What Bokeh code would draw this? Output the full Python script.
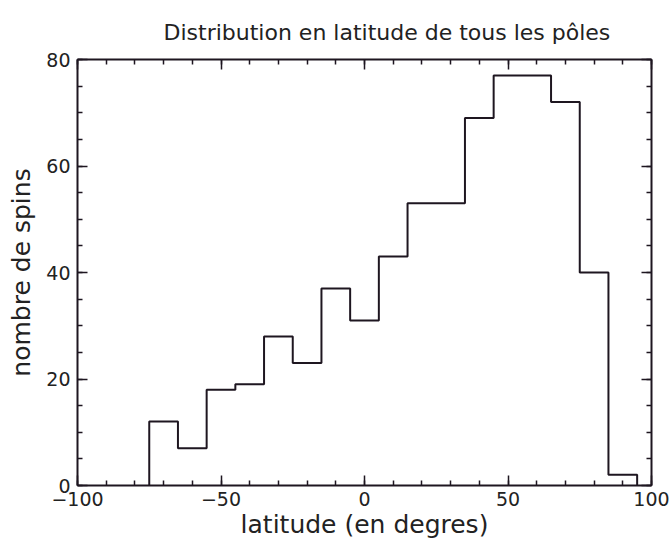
import numpy as np
from bokeh.plotting import figure
from bokeh.models import Range1d, LinearAxis, SingleIntervalTicker
from bokeh.embed import file_html
from bokeh.resources import INLINE

# ---- data ----
bin_edges = [-75, -65, -55, -45, -35, -25, -15, -5, 5, 15, 25, 35, 45, 55, 65, 75, 85, 95]
counts = [12, 7, 18, 19, 28, 23, 37, 31, 43, 53, 53, 69, 77, 77, 72, 40, 2]

title_text = "Distribution en latitude de tous les pôles"
x_label = "latitude (en degres)"
y_label = "nombre de spins"

FONT = "DejaVu Sans"
INK = "#1e1620"

p = figure(width=671, height=553, output_backend="svg", toolbar_location=None,
           x_range=Range1d(-100, 100), y_range=Range1d(0, 80),
           min_border_left=77, min_border_right=20, min_border_top=59, min_border_bottom=68)
p.xaxis.visible = False
p.yaxis.visible = False
p.xgrid.visible = False
p.ygrid.visible = False
p.outline_line_color = None
p.background_fill_color = "white"
p.border_fill_color = "white"


def style(ax, labels=True):
    ax.axis_line_color = INK
    ax.axis_line_width = 2
    ax.major_tick_line_color = INK
    ax.minor_tick_line_color = INK
    ax.major_tick_line_width = 1.5
    ax.minor_tick_line_width = 1.5
    ax.major_tick_in = 10
    ax.major_tick_out = 0
    ax.minor_tick_in = 5
    ax.minor_tick_out = 0
    if labels:
        ax.major_label_text_font = FONT
        ax.major_label_text_font_size = "19px"
        ax.major_label_text_color = "#222222"
        ax.axis_label_text_font = FONT
        ax.axis_label_text_font_size = "25px"
        ax.axis_label_text_font_style = "normal"
        ax.axis_label_text_color = "#222222"
    else:
        ax.major_label_text_color = None
        ax.major_label_text_font_size = "0px"
        ax.major_label_standoff = 0
        ax.axis_label_standoff = 0


xb = LinearAxis(ticker=SingleIntervalTicker(interval=50, num_minor_ticks=5), axis_label=x_label)
style(xb)
xb.major_label_standoff = 6
xb.axis_label_standoff = 1
p.add_layout(xb, "below")

xt = LinearAxis(ticker=SingleIntervalTicker(interval=50, num_minor_ticks=5))
style(xt, labels=False)
p.add_layout(xt, "above")

yl = LinearAxis(ticker=SingleIntervalTicker(interval=20, num_minor_ticks=4), axis_label=y_label)
style(yl)
yl.major_label_standoff = 7
yl.axis_label_standoff = 7
p.add_layout(yl, "left")

yr = LinearAxis(ticker=SingleIntervalTicker(interval=20, num_minor_ticks=4))
style(yr, labels=False)
p.add_layout(yr, "right")

# step outline of the histogram
xs = np.repeat(np.array(bin_edges, dtype=float), 2)
ys = np.concatenate([[0.0], np.repeat(np.array(counts, dtype=float), 2), [0.0]])
p.line(xs, ys, line_color=INK, line_width=2)

p.title.text = title_text
p.title.text_font = FONT
p.title.text_font_size = "22px"
p.title.text_font_style = "normal"
p.title.text_color = "#222222"
p.title.align = "left"
p.title.offset = 86
p.title.standoff = 30

open("out.html", "w").write(file_html(p, INLINE))
